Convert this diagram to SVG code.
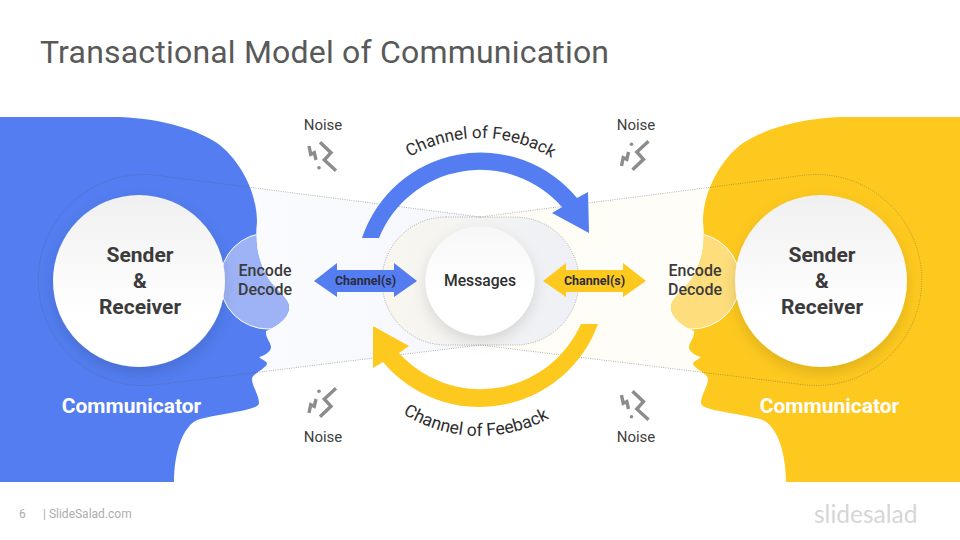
<svg xmlns="http://www.w3.org/2000/svg" width="960" height="540" viewBox="0 0 960 540">
<style>
text{font-family:Roboto,"Liberation Sans",sans-serif}
.title{font-size:32px;fill:#595959;letter-spacing:.2px}
.big{font-size:21px;font-weight:700;fill:#3b3b3b;text-anchor:middle}
.enc{font-size:16px;font-weight:500;fill:#3b3b3b;text-anchor:middle}
.comm{font-size:21px;font-weight:700;fill:#fff;text-anchor:middle}
.noise{font-size:15px;fill:#404040;text-anchor:middle}
.ch{font-size:12.5px;font-weight:700;text-anchor:middle;fill:#2b2b3d}
.fb{font-size:17px;fill:#2e2e2e;text-anchor:middle}
.dot{fill:none;stroke:#555;stroke-opacity:.55;stroke-width:.8;stroke-dasharray:1 1.3}
.bolt{fill:none;stroke:#8c8c8c;stroke-width:3.4}
.foot{font-size:12px;fill:#adadad}
</style>
<defs>
<path id="headShape" d="M0,117H120C165,119 197,130 217,143C238,158 257,190 257,222C255,240 256,257 267,277C273,288 289,298 289,307C289,320 272,328 266,331C265,338 271,342 271,348C270,352 264,356 259,357C262,360 267,361 267,364C265,369 252,374 252,379C252,386 259,395 259,403C259,410 230,412 200,419C182,424 174,455 174,482H0Z"/>
<clipPath id="headClip"><use href="#headShape"/></clipPath>
<linearGradient id="disc" x1="0" y1="0" x2="0" y2="1"><stop offset="0" stop-color="#f0f0f0"/><stop offset=".7" stop-color="#fff"/></linearGradient>
<linearGradient id="msg" x1="0" y1="0" x2="0" y2="1"><stop offset="0" stop-color="#f7f7f7"/><stop offset=".6" stop-color="#fff"/></linearGradient>
<linearGradient id="funL" x1="0" y1="0" x2="1" y2="0"><stop offset="0" stop-color="#fcfdff"/><stop offset="1" stop-color="#f5f7fd"/></linearGradient>
<linearGradient id="funR" x1="1" y1="0" x2="0" y2="0"><stop offset="0" stop-color="#fffefa"/><stop offset="1" stop-color="#fefcf4"/></linearGradient>
<linearGradient id="pill" x1="0" y1="0" x2="1" y2="0"><stop offset="0" stop-color="#f8f6ee"/><stop offset="1" stop-color="#eef0f6"/></linearGradient>
<filter id="sh" x="-30%" y="-30%" width="160%" height="160%"><feDropShadow dx="0" dy="6" stdDeviation="7" flood-color="#000" flood-opacity=".12"/></filter>
<g id="bolt"><path class="bolt" d="M-13,-10L-11.300,-1.700L-7.700,-3.300L-6,4M-2,-13.700L9,-3.300L2.300,4L14,14.700"/><circle cx="-3" cy="11.700" r="1.800" fill="#8c8c8c"/></g>
</defs>
<rect width="960" height="540" fill="#fff"/>
<text class="title" x="40" y="63">Transactional Model of Communication</text>
<g id="beam">
<path d="M156.700,175.300L480,217V345L156.700,384.700Z" fill="url(#funL)"/>
<path d="M803.300,175.300L480,217V345L803.300,384.700Z" fill="url(#funR)"/>
<rect x="382" y="217" width="197" height="128" rx="64" fill="url(#pill)"/>
</g>
<g id="left-head">
<use href="#headShape" fill="#537df0"/>
<circle cx="268" cy="281" r="48" fill="#9db3f6" stroke="#fff" stroke-width="1" clip-path="url(#headClip)"/>
</g>
<g id="right-head">
<g transform="matrix(-1 0 0 1 960 0)">
<use href="#headShape" fill="#fdc91f"/>
<circle cx="268" cy="281" r="48" fill="#fddd7c" stroke="#fff" stroke-width="1" clip-path="url(#headClip)"/>
</g>
</g>
<g id="connectors">
<path class="dot" d="M480,217L156.700,175.300A105.500,105.500 0 1 0 156.700,384.700L480,345"/>
<path class="dot" d="M480,217L803.300,175.300A105.500,105.500 0 1 1 803.300,384.700L480,345"/>
<rect class="dot" x="382" y="217" width="197" height="128" rx="64"/>
<path id="arrow-top" fill="#537df0" d="M362,238A125,125 0 0 1 577,198L588,192L589,233L552,213L562,207A109,109 0 0 0 379,238Z"/>
<path id="arrow-bottom" fill="#fdc91f" d="M598,324A126,126 0 0 1 383,362L373,368L373,326L409,346L399,353A110,110 0 0 0 581,324Z"/>
<path id="ch-left" fill="#537df0" d="M314,281L337,263V270H394V263L417,281L394,297V292H337V297Z"/>
<path id="ch-right" fill="#fdc91f" d="M543,281L566,263V270H623V263L646,281L623,297V292H566V297Z"/>
<path id="t1" fill="none" d="M341,277A139,139 0 0 1 619,277"/>
<path id="t2" fill="none" d="M335,291A145,145 0 0 0 625,291"/>
</g>
<g id="left-disc"><circle cx="139" cy="281" r="86" fill="url(#disc)" filter="url(#sh)"/>
<text class="big" x="140" y="262">Sender</text><text class="big" x="140" y="288">&amp;</text><text class="big" x="140" y="314">Receiver</text></g>
<g id="right-disc"><circle cx="821" cy="281" r="86" fill="url(#disc)" filter="url(#sh)"/>
<text class="big" x="822" y="262">Sender</text><text class="big" x="822" y="288">&amp;</text><text class="big" x="822" y="314">Receiver</text></g>
<g id="messages"><circle cx="480" cy="281" r="54.500" fill="url(#msg)" filter="url(#sh)"/>
<text x="480" y="286" style="font-size:15.700px;font-weight:500;fill:#2f2f2f;text-anchor:middle">Messages</text></g>
<g id="labels">
<text class="enc" x="265" y="276">Encode</text><text class="enc" x="265" y="295">Decode</text>
<text class="enc" x="695" y="276">Encode</text><text class="enc" x="695" y="295">Decode</text>
<text class="comm" x="131.500" y="413">Communicator</text>
<text class="comm" x="829.500" y="413">Communicator</text>
<text class="ch" x="365.500" y="285">Channel(s)</text>
<text class="ch" x="594.500" y="285">Channel(s)</text>
<text class="fb"><textPath href="#t1" startOffset="50.200%">Channel of Feeback</textPath></text>
<text class="fb" style="font-size:17.500px"><textPath href="#t2" startOffset="49%">Channel of Feeback</textPath></text>
</g>
<g id="noise-tl"><text class="noise" x="323" y="130">Noise</text><use href="#bolt" x="322" y="156"/></g>
<g id="noise-tr"><text class="noise" x="636" y="130">Noise</text><use href="#bolt" transform="translate(634.500 156) scale(1 -1)"/></g>
<g id="noise-bl"><text class="noise" x="323" y="442">Noise</text><use href="#bolt" transform="translate(322 403) scale(1 -1)"/></g>
<g id="noise-br"><text class="noise" x="636" y="442">Noise</text><use href="#bolt" x="634.500" y="405"/></g>
<g id="footer">
<text class="foot" x="19" y="518">6</text>
<text class="foot" x="43" y="518">| SlideSalad.com</text>
<text x="814" y="523" style="font-family:Lato,sans-serif;font-size:24.500px;fill:#d6d6d6">slidesalad</text>
</g>
</svg>
